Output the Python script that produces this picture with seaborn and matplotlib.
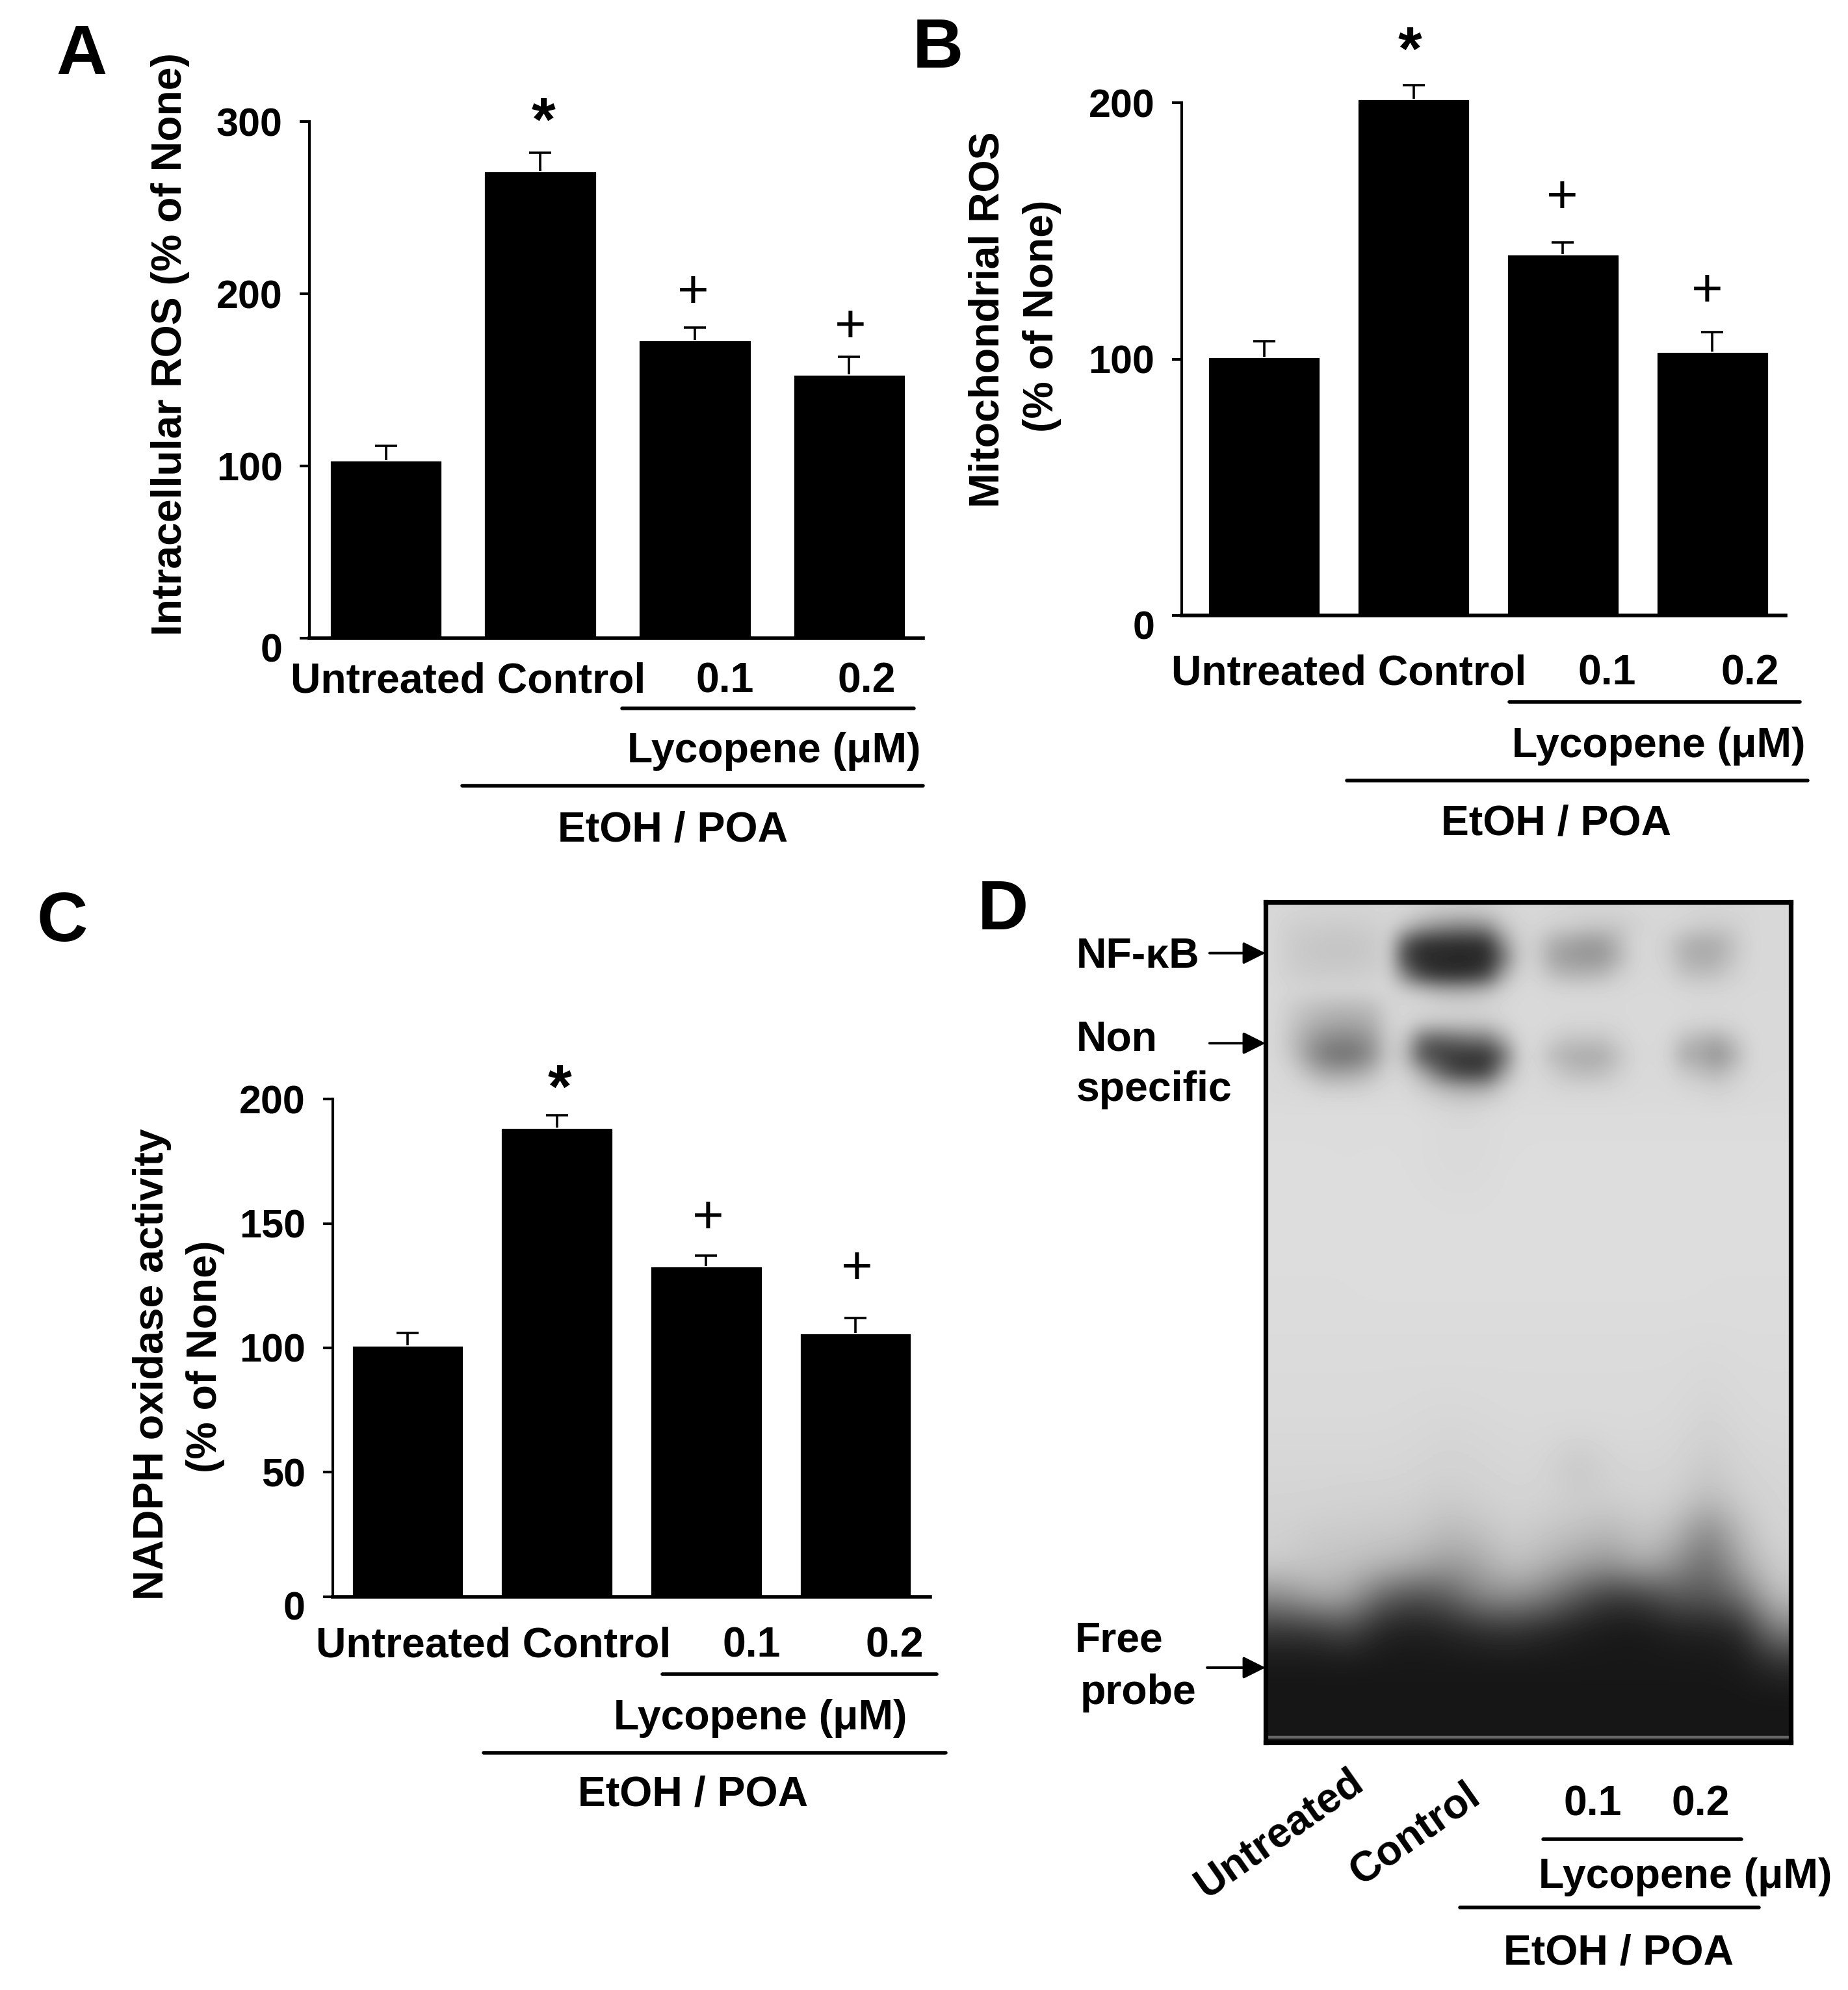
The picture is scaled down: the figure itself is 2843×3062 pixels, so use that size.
import numpy as np
import pandas as pd
import matplotlib
matplotlib.use("Agg")
import matplotlib.pyplot as plt
import seaborn as sns
from matplotlib.lines import Line2D
from matplotlib.patches import FancyArrowPatch
from matplotlib.transforms import ScaledTranslation

# ==================================
# DATA
# ==================================

groups = ["Untreated", "Control", "0.1", "0.2"]
lycopene_label = "Lycopene (\u03bcM)"
treatment_label = "EtOH / POA"

ros_a = [103.5, 271.5, 173.5, 153.5]
err_a = [8.5, 10.5, 7, 10]
ticks_a = [0, 100, 200, 300]

ros_b = [101, 201.5, 141, 103]
err_b = [6, 5.5, 4.5, 7.5]
ticks_b = [0, 100, 200]

nadph_c = [101, 188.5, 133, 106]
err_c = [5, 5, 4, 6]
ticks_c = [0, 50, 100, 150, 200]

# gel grey levels: finer block over the bands, 32 columns per row
gel_band_rows = [
    [215, 214, 213, 212, 212, 212, 213, 214, 213, 210, 205, 203, 203, 206, 212, 215, 215, 214, 213, 212, 212, 213, 215, 215, 215, 214, 213, 213, 214, 215, 216, 216],
    [215, 207, 205, 204, 203, 204, 206, 212, 195, 165, 150, 140, 140, 150, 195, 212, 214, 208, 205, 200, 198, 200, 208, 214, 214, 210, 204, 203, 206, 214, 216, 216],
    [215, 204, 200, 198, 197, 198, 202, 208, 95, 55, 50, 48, 48, 55, 150, 208, 206, 175, 165, 155, 158, 185, 214, 215, 205, 180, 172, 175, 195, 214, 216, 216],
    [215, 204, 200, 198, 197, 198, 202, 208, 70, 42, 40, 38, 38, 42, 115, 206, 205, 165, 155, 150, 152, 180, 212, 215, 205, 178, 170, 175, 198, 214, 216, 216],
    [215, 207, 205, 204, 204, 205, 207, 210, 130, 65, 48, 45, 48, 70, 170, 212, 212, 190, 180, 180, 185, 205, 214, 216, 212, 195, 190, 195, 208, 215, 216, 216],
    [216, 214, 212, 212, 212, 212, 213, 215, 205, 195, 180, 175, 178, 190, 210, 216, 216, 215, 214, 214, 214, 215, 216, 216, 216, 214, 213, 213, 215, 216, 216, 216],
    [216, 205, 195, 188, 185, 185, 190, 210, 216, 215, 214, 212, 212, 214, 215, 217, 217, 216, 216, 216, 216, 216, 217, 217, 217, 216, 216, 216, 216, 217, 217, 217],
    [216, 200, 182, 170, 165, 165, 175, 208, 214, 200, 198, 198, 198, 200, 212, 217, 217, 216, 214, 214, 214, 215, 217, 217, 217, 214, 212, 212, 214, 217, 217, 217],
    [216, 195, 165, 140, 135, 135, 155, 205, 200, 110, 95, 105, 115, 120, 170, 215, 216, 205, 195, 195, 195, 208, 216, 217, 214, 190, 180, 170, 195, 215, 217, 217],
    [216, 200, 160, 125, 112, 118, 145, 205, 190, 85, 65, 55, 50, 52, 110, 210, 215, 185, 175, 170, 172, 195, 214, 217, 212, 170, 165, 145, 175, 214, 217, 217],
    [217, 212, 190, 165, 160, 165, 185, 212, 208, 170, 110, 70, 60, 70, 160, 212, 216, 205, 190, 185, 190, 205, 216, 217, 215, 200, 190, 180, 200, 215, 217, 217],
    [217, 216, 214, 205, 205, 205, 212, 216, 216, 205, 190, 175, 170, 175, 205, 216, 217, 214, 212, 212, 212, 214, 217, 217, 217, 214, 212, 208, 213, 217, 218, 218],
    [218, 218, 218, 218, 218, 218, 218, 218, 218, 216, 212, 208, 208, 212, 216, 218, 218, 218, 218, 218, 218, 218, 218, 218, 218, 218, 217, 216, 217, 218, 218, 218],
    [220, 220, 220, 220, 220, 220, 220, 220, 220, 219, 218, 216, 216, 218, 219, 220, 220, 220, 220, 220, 220, 220, 220, 220, 220, 220, 220, 220, 220, 220, 220, 220],
]

# rest of the lane, 16 columns per row
gel_rows = [
    [220, 220, 220, 220, 220, 217, 217, 220, 220, 220, 220, 220, 220, 220, 220, 220],
    [221, 221, 220, 221, 220, 218, 218, 221, 221, 221, 221, 221, 221, 221, 221, 221],
    [221, 221, 221, 221, 221, 220, 220, 221, 221, 221, 221, 221, 221, 221, 221, 221],
    [221, 221, 221, 221, 221, 221, 221, 221, 221, 221, 221, 221, 221, 221, 221, 221],
    [220, 220, 220, 221, 221, 221, 221, 221, 221, 221, 221, 221, 221, 220, 220, 220],
    [220, 220, 220, 220, 220, 220, 220, 220, 220, 220, 220, 220, 220, 220, 220, 220],
    [219, 219, 219, 219, 219, 219, 219, 219, 219, 219, 219, 219, 219, 218, 219, 219],
    [218, 218, 218, 218, 218, 218, 218, 218, 218, 218, 218, 218, 218, 216, 218, 218],
    [218, 218, 218, 218, 217, 216, 217, 218, 218, 218, 218, 218, 217, 213, 217, 218],
    [216, 216, 216, 216, 215, 213, 214, 216, 216, 214, 216, 216, 215, 208, 215, 216],
    [214, 214, 214, 214, 213, 210, 212, 214, 214, 195, 212, 213, 212, 200, 212, 214],
    [212, 212, 210, 210, 208, 203, 207, 212, 210, 206, 206, 210, 206, 185, 206, 213],
    [208, 203, 203, 200, 200, 185, 192, 206, 198, 192, 182, 200, 182, 130, 190, 212],
    [204, 196, 192, 186, 175, 155, 165, 195, 180, 160, 150, 175, 145, 105, 170, 205],
    [140, 170, 165, 100, 75, 90, 135, 145, 125, 85, 55, 60, 90, 85, 115, 190],
    [55, 55, 75, 35, 30, 35, 45, 50, 40, 30, 25, 24, 32, 32, 40, 130],
    [24, 24, 24, 24, 24, 24, 24, 24, 24, 24, 24, 24, 24, 24, 26, 50],
    [22, 22, 22, 22, 22, 22, 22, 22, 22, 22, 22, 22, 22, 22, 22, 22],
    [22, 22, 22, 22, 22, 22, 22, 22, 22, 22, 22, 22, 22, 22, 22, 22],
]

# ==================================
# FIGURE
# ==================================

sns.set_theme(style="white")
plt.rcParams["font.family"] = ["Liberation Sans", "DejaVu Sans"]
plt.rcParams["font.weight"] = "bold"

W, H = 1456, 1568
TICK_FS = 22
LABEL_FS = 23.2
fig = plt.figure(figsize=(14.215, 15.31), dpi=200)


def fx(x):
    return x / W


def fy(y):
    return 1 - y / H


def put(x, y, s, fs=LABEL_FS, ha="center", weight="bold", **kw):
    fig.text(fx(x), fy(y + 2), s, fontsize=fs, ha=ha, va="center", fontweight=weight, color="black", **kw)


def rule(x0, x1, y, lw=2.0):
    fig.add_artist(Line2D([fx(x0), fx(x1)], [fy(y), fy(y)], color="black", lw=lw))


def bar_panel(values, errors, ticks, spine_x, end_x, top_y, zero_y, first_x, step, width):
    # axes slightly taller than the top tick so the bars can go above it
    ymax = ticks[-1] * 1.12
    axes_top = zero_y - (zero_y - top_y) * 1.12
    ax = fig.add_axes([fx(spine_x), fy(zero_y), (end_x - spine_x) / W, (zero_y - axes_top) / H])
    df = pd.DataFrame({"group": groups, "value": values})
    sns.barplot(data=df, x="group", y="value", color="black", saturation=1, width=width, ax=ax)
    _, caps, _ = ax.errorbar(range(4), values, yerr=[[0] * 4, errors], fmt="none", ecolor="black",
                             elinewidth=1.3, capsize=6.2, capthick=1.3, clip_on=False)
    caps[0].set_visible(False)
    ax.set_xlim((spine_x - first_x) / step, (end_x - first_x) / step)
    ax.set_ylim(0, ymax)
    ax.set_xticks([])
    ax.set_yticks(ticks)
    ax.set_xlabel("")
    ax.set_ylabel("")
    ax.patch.set_alpha(0)
    ax.spines["top"].set_visible(False)
    ax.spines["right"].set_visible(False)
    ax.spines["left"].set_bounds(0, ticks[-1])
    ax.spines["left"].set_linewidth(1.5)
    ax.spines["left"].set_color("black")
    ax.spines["bottom"].set_linewidth(2.0)
    ax.spines["bottom"].set_color("black")
    ax.tick_params(axis="y", left=True, length=5.5, width=1.5, pad=9.5, labelsize=TICK_FS, color="black")
    # the zero label sits a bit under its tick in the original
    labels = ax.get_yticklabels()
    labels[0].set_transform(labels[0].get_transform() + ScaledTranslation(0, -0.07, fig.dpi_scale_trans))
    for lab in labels:
        lab.set_fontweight("bold")
        lab.set_color("black")
    return ax


def group_labels(label_x, label_y, x01, x02, rule1, lyc_x, lyc_y, rule2, etoh_x, etoh_y):
    put(label_x, label_y, f"{groups[0]} {groups[1]}")
    put(x01, label_y, groups[2])
    put(x02, label_y, groups[3])
    rule(rule1[0], rule1[1], rule1[2])
    put(lyc_x, lyc_y, lycopene_label)
    rule(rule2[0], rule2[1], rule2[2])
    put(etoh_x, etoh_y, treatment_label)


def star(x, y):
    put(x, y, "*", fs=34)


def plus(x, y):
    put(x, y, "+", fs=30, weight="normal")


# PANEL A
bar_panel(ros_a, err_a, ticks_a, 244, 727, 96, 503, 304, 121.7, 0.73)
put(134, 269, "Intracellular ROS (% of None)", rotation=90)
group_labels(369, 535, 571, 683, (490, 720, 558), 610, 590, (364, 727, 619), 530, 652)
put(64, 42, "A", fs=39)
star(428, 96)
plus(546, 229)
plus(670, 256)

# PANEL B
bar_panel(ros_b, err_b, ticks_b, 931, 1407, 81, 485, 996, 117.7, 0.752)
put(778, 250, "Mitochondrial ROS", rotation=90)
put(821, 247, "(% of None)", rotation=90)
group_labels(1063, 529, 1266, 1379, (1189, 1418, 553), 1307, 586, (1061, 1424, 615), 1226, 647)
put(739, 37, "B", fs=39)
star(1111, 40)
plus(1231, 154)
plus(1345, 228)

# PANEL C
bar_panel(nadph_c, err_c, ticks_c, 262, 733, 866, 1258, 321, 117.7, 0.75)
put(120, 1073, "NADPH oxidase activity", rotation=90)
put(162, 1067, "(% of None)", rotation=90)
group_labels(389, 1295, 592, 705, (522, 738, 1319), 599, 1352, (381, 745, 1381), 546, 1412)
put(49, 725, "C", fs=39)
star(441, 858)
plus(558, 958)
plus(675, 998)

# PANEL D
gel_left, gel_right, gel_top, gel_bottom = 997, 1411, 711, 1373
ax_gel = fig.add_axes([fx(gel_left), fy(gel_bottom), (gel_right - gel_left) / W, (gel_bottom - gel_top) / H])
band_share = 0.27
ax_gel.imshow(np.array(gel_band_rows), cmap="gray", vmin=0, vmax=255, aspect="auto",
              interpolation="bicubic", extent=(0, 1, band_share, 0))
ax_gel.imshow(np.array(gel_rows), cmap="gray", vmin=0, vmax=255, aspect="auto",
              interpolation="bicubic", extent=(0, 1, 1, band_share))
ax_gel.set_xlim(0, 1)
ax_gel.set_ylim(1, 0)
ax_gel.axhline(0.994, color="#666666", lw=1.6)
ax_gel.set_xticks([])
ax_gel.set_yticks([])
for side in ax_gel.spines.values():
    side.set_visible(True)
    side.set_linewidth(2.6)
    side.set_color("black")

put(790, 716, "D", fs=39)
put(848, 752, "NF-\u03baB", ha="left")
put(848, 817, "Non", ha="left")
put(848, 857, "specific", ha="left")
put(847, 1291, "Free", ha="left")
put(851, 1332, "probe", ha="left")
for arrow_y, arrow_x in [(751, 953), (822, 953), (1314, 951)]:
    fig.add_artist(FancyArrowPatch(
        (fx(arrow_x), fy(arrow_y)), (fx(gel_left), fy(arrow_y)), transform=fig.transFigure,
        arrowstyle="-|>", mutation_scale=26, lw=1.4, color="black", shrinkA=0, shrinkB=0))

put(1008, 1443, groups[0], rotation=35)
put(1115, 1443, groups[1], rotation=35)
put(1255, 1420, groups[2])
put(1340, 1420, groups[3])
rule(1216, 1372, 1449)
put(1328, 1477, lycopene_label)
rule(1150, 1386, 1503)
put(1275, 1537, treatment_label)

fig.savefig("out.png", dpi=200)
